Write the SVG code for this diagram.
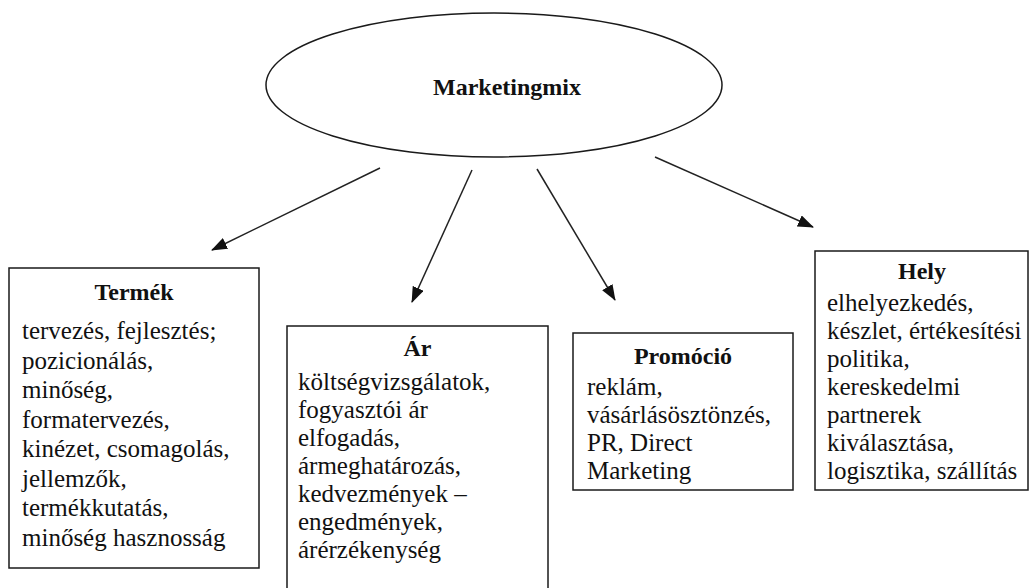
<svg xmlns="http://www.w3.org/2000/svg" width="1031" height="588" viewBox="0 0 1031 588">
<style>
.box{fill:#fff;stroke:#1a1a1a;stroke-width:1.5}
.t{font-family:"Liberation Serif","Times New Roman",serif;font-size:25px;fill:#111}
.h{font-weight:bold;text-anchor:middle;font-size:24px}
.c{stroke:#222;stroke-width:1.5;fill:none;marker-end:url(#ah)}
</style>
<defs>
<marker id="ah" markerUnits="userSpaceOnUse" markerWidth="16" markerHeight="12" refX="15" refY="6" orient="auto">
<path d="M0,0 L16,6 L0,12 Z" fill="#111"/>
</marker>
</defs>
<rect width="1031" height="588" fill="#fff"/>
<g id="connectors">
<line class="c" x1="380" y1="168" x2="212" y2="250"/>
<line class="c" x1="472" y1="170" x2="412" y2="302"/>
<line class="c" x1="537" y1="169" x2="615" y2="300"/>
<line class="c" x1="655" y1="157" x2="813" y2="227"/>
</g>
<g id="marketingmix">
<ellipse cx="494" cy="85" rx="228" ry="72" class="box"/>
<text x="507" y="95" class="t h">Marketingmix</text>
</g>
<g id="termek">
<rect x="9" y="268" width="250" height="300" class="box"/>
<text x="134" y="300" class="t h">Termék</text>
<text class="t">
<tspan x="22" y="339">tervezés, fejlesztés;</tspan>
<tspan x="22" y="368.5">pozicionálás,</tspan>
<tspan x="22" y="398">minőség,</tspan>
<tspan x="22" y="427.5">formatervezés,</tspan>
<tspan x="22" y="457">kinézet, csomagolás,</tspan>
<tspan x="22" y="486.5">jellemzők,</tspan>
<tspan x="22" y="516">termékkutatás,</tspan>
<tspan x="22" y="545.5">minőség hasznosság</tspan>
</text>
</g>
<g id="ar">
<rect x="287" y="326" width="261" height="280" class="box"/>
<text x="417.5" y="356" class="t h">Ár</text>
<text class="t">
<tspan x="298" y="390">költségvizsgálatok,</tspan>
<tspan x="298" y="418">fogyasztói ár</tspan>
<tspan x="298" y="446">elfogadás,</tspan>
<tspan x="298" y="474">ármeghatározás,</tspan>
<tspan x="298" y="502">kedvezmények –</tspan>
<tspan x="298" y="530">engedmények,</tspan>
<tspan x="298" y="558">árérzékenység</tspan>
</text>
</g>
<g id="promocio">
<rect x="573" y="333" width="220" height="157" class="box"/>
<text x="683" y="364" class="t h">Promóció</text>
<text class="t">
<tspan x="587" y="395">reklám,</tspan>
<tspan x="587" y="423">vásárlásösztönzés,</tspan>
<tspan x="587" y="451">PR, Direct</tspan>
<tspan x="587" y="479">Marketing</tspan>
</text>
</g>
<g id="hely">
<rect x="815" y="251" width="213" height="239" class="box"/>
<text x="922" y="279" class="t h">Hely</text>
<text class="t">
<tspan x="827" y="311">elhelyezkedés,</tspan>
<tspan x="827" y="339">készlet, értékesítési</tspan>
<tspan x="827" y="367">politika,</tspan>
<tspan x="827" y="395">kereskedelmi</tspan>
<tspan x="827" y="423">partnerek</tspan>
<tspan x="827" y="451">kiválasztása,</tspan>
<tspan x="827" y="479">logisztika, szállítás</tspan>
</text>
</g>
</svg>
